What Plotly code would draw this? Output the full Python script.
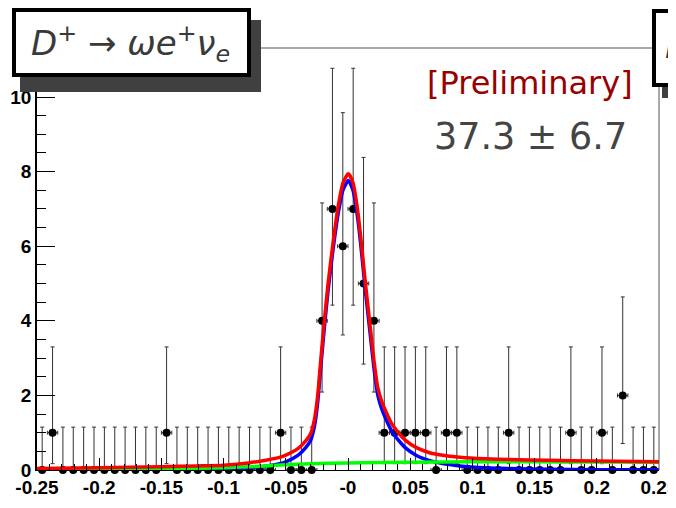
import plotly.graph_objects as go

# ---------------- data ----------------
bin_lo, bin_hi, n_bins = -0.25, 0.25, 60
counts = [0, 1, 0, 0, 0, 0, 0, 0, 0, 0,
          0, 0, 1, 0, 0, 0, 0, 0, 0, 0,
          0, 0, 0, 1, 0, 0, 0, 4, 7, 6,
          7, 5, 4, 1, 1, 1, 1, 1, 0, 1,
          1, 0, 0, 0, 0, 1, 0, 0, 0, 0,
          0, 1, 0, 0, 1, 0, 2, 0, 0, 0]
# asymmetric (Poisson) error bars as drawn: count -> (down, up)
err_table = {0: (0.0, 1.15), 1: (0.83, 2.30), 2: (1.29, 2.64),
             4: (1.91, 3.16), 5: (2.16, 3.38), 6: (2.38, 3.58), 7: (2.58, 3.77)}

# fit curves
red_x = [-0.25, -0.20, -0.15, -0.12, -0.10, -0.08, -0.065, -0.055, -0.050, -0.040,
         -0.034, -0.030, -0.027, -0.0245, -0.022, -0.019, -0.016, -0.012, -0.008, -0.004,
         0.0003, 0.004, 0.008, 0.011, 0.014, 0.0175, 0.021, 0.024, 0.027, 0.030,
         0.035, 0.040, 0.046, 0.055, 0.065, 0.075, 0.090, 0.110, 0.130, 0.160,
         0.200, 0.250]
red_y = [0.04, 0.06, 0.09, 0.11, 0.13, 0.19, 0.27, 0.34, 0.40, 0.58,
         0.78, 0.98, 1.35, 1.95, 2.90, 4.00, 5.00, 6.10, 7.05, 7.70,
         7.94, 7.70, 6.90, 6.00, 5.00, 3.95, 2.90, 2.20, 1.85, 1.60,
         1.25, 1.02, 0.80, 0.60, 0.47, 0.40, 0.34, 0.30, 0.28, 0.26,
         0.24, 0.22]

blue_x = red_x
blue_y = [0.00, 0.005, 0.01, 0.02, 0.03, 0.06, 0.11, 0.17, 0.22, 0.40,
          0.60, 0.80, 1.17, 1.77, 2.72, 3.82, 4.82, 5.92, 6.86, 7.51,
          7.76, 7.50, 6.70, 5.80, 4.80, 3.75, 2.70, 2.00, 1.65, 1.40,
          1.05, 0.82, 0.60, 0.39, 0.26, 0.18, 0.11, 0.06, 0.04, 0.02,
          0.01, 0.005]

green_x = [-0.25, -0.22, -0.18, -0.14, -0.10, -0.07, -0.05, -0.03, 0.0, 0.05,
           0.10, 0.15, 0.20, 0.25]
green_y = [0.02, 0.02, 0.025, 0.04, 0.06, 0.10, 0.14, 0.17, 0.19, 0.21,
           0.22, 0.22, 0.215, 0.21]

x_tickvals = [-0.25, -0.2, -0.15, -0.1, -0.05, 0.0, 0.05, 0.1, 0.15, 0.2, 0.25]
x_ticktext = ["-0.25", "-0.2", "-0.15", "-0.1", "-0.05", "-0", "0.05", "0.1", "0.15", "0.2", "0.25"]
y_tickvals = [0, 2, 4, 6, 8, 10]
y_ticktext = ["0", "2", "4", "6", "8", "10"]

title_text = "<i>D</i><sup>+</sup> → <i>ωe</i><sup>+</sup><i>ν<sub>e</sub></i>"
prelim_text = "[Preliminary]"
yield_text = "37.3 ± 6.7"

# ---------------- derived ----------------
bw = (bin_hi - bin_lo) / n_bins
centers = [bin_lo + (i + 0.5) * bw for i in range(n_bins)]
err_dn = [err_table[c][0] for c in counts]
err_up = [err_table[c][1] for c in counts]

# ---------------- figure ----------------
OFF = 8                     # page body margin
W, H = 676 - OFF, 508 - OFF
# plot frame in window pixels
L, R, T, B = 37, 659, 48, 470


def pxx(x):
    return (x - L) / (R - L)


def pyy(y):
    return (B - y) / (B - T)


fig = go.Figure()
fig.add_trace(go.Scatter(
    x=centers, y=counts, mode="markers",
    marker=dict(color="black", size=8),
    error_y=dict(type="data", symmetric=False, array=err_up, arrayminus=err_dn,
                 color="#333333", thickness=1, width=2),
    error_x=dict(type="constant", value=bw / 2, color="#333333", thickness=1, width=2),
    cliponaxis=False, showlegend=False, hoverinfo="skip"))
fig.add_trace(go.Scatter(x=blue_x, y=blue_y, mode="lines",
                         line=dict(color="#0000ff", width=3.5, shape="spline", smoothing=0.6),
                         showlegend=False))
fig.add_trace(go.Scatter(x=green_x, y=green_y, mode="lines",
                         line=dict(color="#00ff00", width=3.5, shape="spline", smoothing=0.6),
                         showlegend=False))
fig.add_trace(go.Scatter(x=red_x, y=red_y, mode="lines",
                         line=dict(color="#ff0000", width=3.5, shape="spline", smoothing=0.6),
                         showlegend=False))

tickfont = dict(family="Liberation Sans", size=19, color="black", weight="bold")
fig.update_layout(
    width=W, height=H,
    margin=dict(l=L - OFF, r=W - (R - OFF), t=T - OFF, b=H - (B - OFF), pad=0, autoexpand=False),
    paper_bgcolor="white", plot_bgcolor="white",
    xaxis=dict(range=[bin_lo, bin_hi], tickvals=x_tickvals, ticktext=x_ticktext,
               ticks="inside", ticklen=12, tickwidth=1, tickcolor="black",
               minor=dict(dtick=0.01, ticks="inside", ticklen=6, tickcolor="black", tickwidth=1),
               showline=True, linecolor="black", linewidth=1, automargin=False,
               ticklabeloverflow="allow",
               showgrid=False, zeroline=False, tickfont=tickfont),
    yaxis=dict(range=[0, (B - T) / 37.3], tickvals=y_tickvals, ticktext=y_ticktext,
               ticks="inside", ticklen=18, tickwidth=1, tickcolor="black",
               minor=dict(dtick=0.5, ticks="inside", ticklen=9, tickcolor="black", tickwidth=1),
               showline=True, linecolor="black", linewidth=1.5, automargin=False,
               ticklabeloverflow="allow",
               showgrid=False, zeroline=False, tickfont=tickfont),
)

shapes = []
# frame top/right
shapes.append(dict(type="line", xref="paper", yref="paper", x0=pxx(L), x1=pxx(R), y0=pyy(T), y1=pyy(T),
                   line=dict(color="#555555", width=1), layer="above"))
shapes.append(dict(type="line", xref="paper", yref="paper", x0=pxx(R), x1=pxx(R), y0=pyy(T), y1=pyy(B),
                   line=dict(color="#555555", width=1), layer="above"))
# left title box + shadow
shapes.append(dict(type="rect", xref="paper", yref="paper", x0=pxx(20), x1=pxx(261), y0=pyy(20), y1=pyy(92),
                   fillcolor="#404040", line=dict(width=0), layer="above"))
shapes.append(dict(type="rect", xref="paper", yref="paper", x0=pxx(14), x1=pxx(249), y0=pyy(10), y1=pyy(75),
                   fillcolor="white", line=dict(color="black", width=4), layer="above"))
# right (cut-off) box + shadow
shapes.append(dict(type="rect", xref="paper", yref="paper", x0=pxx(662), x1=pxx(740), y0=pyy(22), y1=pyy(98),
                   fillcolor="#404040", line=dict(width=0), layer="above"))
shapes.append(dict(type="rect", xref="paper", yref="paper", x0=pxx(654), x1=pxx(740), y0=pyy(11), y1=pyy(85),
                   fillcolor="white", line=dict(color="black", width=4), layer="above"))
fig.update_layout(shapes=shapes)

annotations = [
    dict(text=title_text, xref="paper", yref="paper", x=pxx(130), y=pyy(44),
         xanchor="center", yanchor="middle", showarrow=False,
         font=dict(family="DejaVu Sans", size=34, color="#3a3a3a")),
    dict(text="<i>D</i>", xref="paper", yref="paper", x=pxx(663), y=pyy(46),
         xanchor="left", yanchor="middle", showarrow=False,
         font=dict(family="DejaVu Sans", size=34, color="#3a3a3a")),
    dict(text=prelim_text, xref="paper", yref="paper", x=pxx(530), y=pyy(83),
         xanchor="center", yanchor="middle", showarrow=False,
         font=dict(family="DejaVu Sans", size=32, color="#990000")),
    dict(text=yield_text, xref="paper", yref="paper", x=pxx(530), y=pyy(136),
         xanchor="center", yanchor="middle", showarrow=False,
         font=dict(family="DejaVu Sans", size=36.5, color="#444444")),
]
fig.update_layout(annotations=annotations)

fig.write_html("out.html")
